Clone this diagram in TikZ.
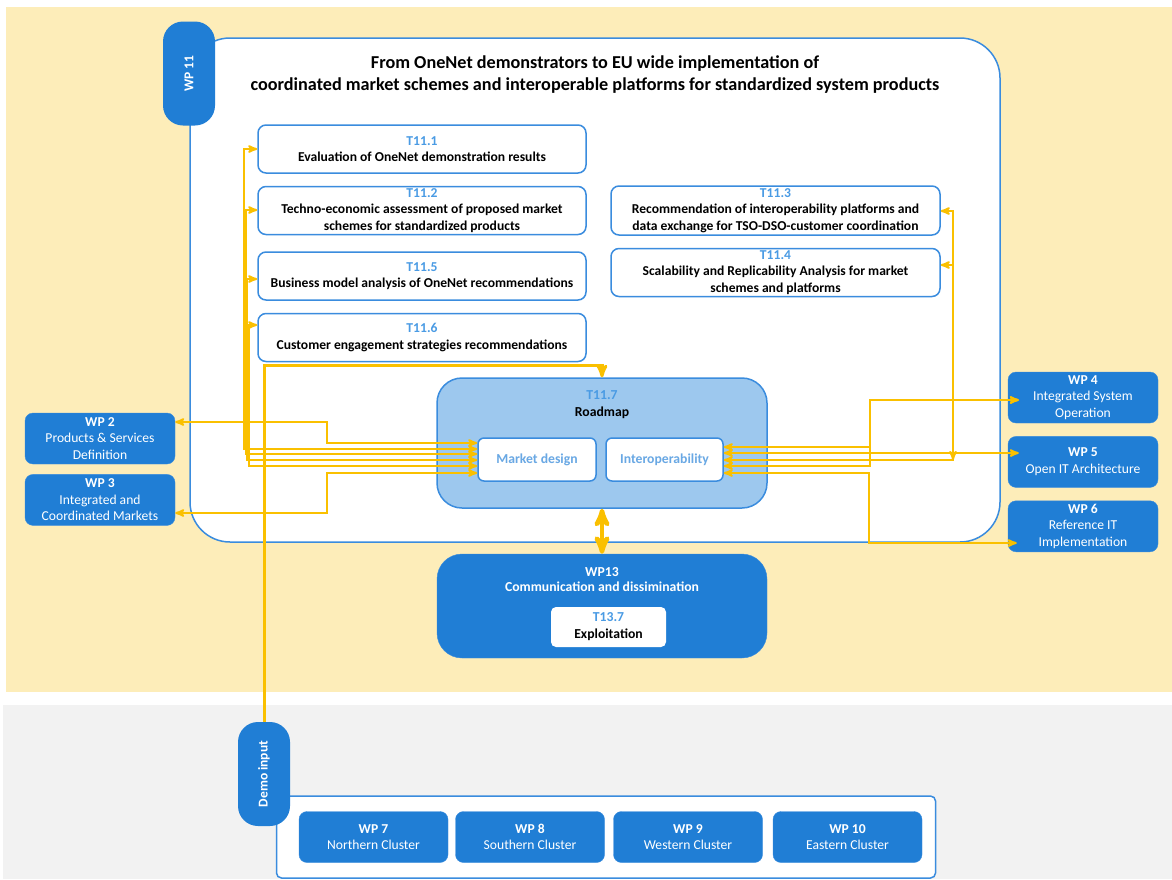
\documentclass[tikz,border=0pt]{standalone}
\usepackage{fontspec}
\setmainfont{Carlito}
\usepackage{graphicx}
\usetikzlibrary{positioning, arrows}
\definecolor{wpblue}{RGB}{32,126,213}
\definecolor{lineblue}{RGB}{58,140,222}
\definecolor{roadblue}{RGB}{157,200,238}
\definecolor{tblue}{RGB}{74,155,228}
\definecolor{mdblue}{RGB}{105,168,228}
\definecolor{gold}{RGB}{250,192,0}
\definecolor{sand}{RGB}{253,237,185}
\definecolor{pale}{RGB}{242,242,242}
\newcommand{\tasknum}[1]{{\color{tblue}#1}}
\tikzset{x=1pt, y=-1pt, % one unit is one pixel of the sketch
frame/.style={ % big white box of WP 11
  draw=lineblue, line width=1.5pt, fill=white,
  rounded corners=40pt, minimum width=810pt, minimum height=504pt},
tab/.style={ % vertical blue tabs
  fill=wpblue, rounded corners=20pt, text=white, inner sep=0pt,
  minimum width=52pt, minimum height=104pt,
  font=\bfseries\fontsize{13.5}{15}\selectfont},
task/.style={ % white task boxes
  draw=lineblue, line width=1.5pt, fill=white, rounded corners=8pt,
  minimum width=328pt, minimum height=48pt, inner sep=0pt, align=center,
  font=\bfseries\fontsize{13.6}{16.5}\selectfont},
wp/.style={ % blue work package boxes
  fill=wpblue, draw=lineblue, rounded corners=8pt, text=white,
  minimum width=150pt, minimum height=51pt, inner sep=0pt, align=center,
  font=\fontsize{13.6}{16.5}\selectfont},
inner/.style={ % small white boxes in the roadmap
  draw=lineblue, line width=1.5pt, fill=white, rounded corners=6pt,
  minimum width=118pt, minimum height=43pt, inner sep=0pt,
  text=mdblue, font=\bfseries\fontsize{13.7}{16}\selectfont},
link/.style={ % thin yellow connectors
  draw=gold, line width=2pt, <->, >=stealth'},
feed/.style={draw=gold, line width=3pt, ->, >=stealth'},
both/.style={draw=gold, line width=4.5pt, <->, >=stealth'}}

\begin{document}
\begin{tikzpicture}
    \useasboundingbox (0,0) rectangle (1172,879);
    \fill[sand] (6,7) rectangle (1172,692);
    \fill[pale] (3,705) rectangle (1172,879);

    % WP 11
    \node[frame] (frame) at (595,290) {};
    \node[tab] (wp11) at (189,73.5) {\rotatebox{90}{WP 11}};
    \node[align=center, font=\bfseries\fontsize{18.2}{22}\selectfont] (title) at (595,75)
        {From OneNet demonstrators to EU wide implementation of\\
         coordinated market schemes and interoperable platforms for standardized system products};

    \node[task] (t111) at (422,149) {\tasknum{T11.1}\\Evaluation of OneNet demonstration results};
    \node[task, below=12pt of t111] (t112) {\tasknum{T11.2}\\Techno-economic assessment of proposed market\\schemes for standardized products};
    \node[task, below=16pt of t112] (t115) {\tasknum{T11.5}\\Business model analysis of OneNet recommendations};
    \node[task, below=12pt of t115] (t116) {\tasknum{T11.6}\\Customer engagement strategies recommendations};
    \node[task, minimum width=329pt, minimum height=49pt] (t113) at (775.5,210.5)
        {\tasknum{T11.3}\\Recommendation of interoperability platforms and\\data exchange for TSO-DSO-customer coordination};
    \node[task, minimum width=329pt, below=12pt of t113] (t114)
        {\tasknum{T11.4}\\Scalability and Replicability Analysis for market\\schemes and platforms};

    % roadmap
    \node[draw=lineblue, line width=1.5pt, fill=roadblue, rounded corners=25pt,
          minimum width=330pt, minimum height=130pt] (roadmap) at (602,443) {};
    \node[align=center, font=\bfseries\fontsize{13.7}{17}\selectfont] (roadtitle) at (602,404.5)
        {\tasknum{T11.7}\\Roadmap};
    \node[inner] (market) at (537,459.5) {Market design};
    \node[inner, minimum width=117pt] (interop) at (664.5,459.5) {Interoperability};

    % WP13
    \node[fill=wpblue, draw=lineblue, rounded corners=25pt,
          minimum width=330pt, minimum height=104pt] (wp13) at (602,606) {};
    \node[align=center, text=white, font=\bfseries\fontsize{13.7}{15.5}\selectfont] (wp13title) at (602,579.5)
        {WP13\\Communication and dissimination};
    \node[fill=white, rounded corners=5pt, minimum width=115pt, minimum height=40pt,
          inner sep=0pt, align=center, font=\bfseries\fontsize{13.7}{17}\selectfont] (t137) at (608.5,627)
        {\tasknum{T13.7}\\Exploitation};

    % other work packages
    \node[wp] (wp2) at (100,438.5) {\textbf{WP 2}\\Products \& Services\\Definition};
    \node[wp, below=10pt of wp2] (wp3) {\textbf{WP 3}\\Integrated and\\Coordinated Markets};
    \node[wp] (wp4) at (1083,397.5) {\textbf{WP 4}\\Integrated System\\Operation};
    \node[wp, below=13pt of wp4] (wp5) {\textbf{WP 5}\\Open IT Architecture};
    \node[wp, below=13pt of wp5] (wp6) {\textbf{WP 6}\\Reference IT\\Implementation};

    % demo clusters
    \node[draw=lineblue, line width=1.5pt, fill=white, rounded corners=5pt,
          minimum width=659pt, minimum height=82pt] (clusters) at (606,837) {};
    \node[wp, minimum width=149pt] (wp7) at (373.5,837) {\textbf{WP 7}\\Northern Cluster};
    \node[wp, minimum width=149pt] (wp8) at (530,837) {\textbf{WP 8}\\Southern Cluster};
    \node[wp, minimum width=149pt] (wp9) at (688,837) {\textbf{WP 9}\\Western Cluster};
    \node[wp, minimum width=149pt] (wp10) at (847.5,837) {\textbf{WP 10}\\Eastern Cluster};
    \node[tab] (demo) at (264,774) {\rotatebox{90}{Demo input}};

    % market design inputs
    \draw[link] (wp2.east |- 0,422) -- (327,422) -- (327,443) -- (market.west |- 0,443);
    \draw[link] (t111.west) -- (244,149) -- (244,449) -- (market.west |- 0,449);
    \draw[link] (t112.west |- 0,210) -- (245.5,210) -- (245.5,454) -- (market.west |- 0,454);
    \draw[link] (t115.west |- 0,279) -- (247,279) -- (247,460) -- (market.west |- 0,460);
    \draw[link] (t116.west |- 0,325) -- (248.5,325) -- (248.5,466) -- (market.west |- 0,466);
    \draw[link] (wp3.east |- 0,513) -- (327,513) -- (327,473) -- (market.west |- 0,473);

    % interoperability inputs
    \draw[link] ([xshift=11pt]wp4.west |- 0,400) -- (870,400) -- (870,447) -- (interop.east |- 0,447);
    \draw[link] ([xshift=11pt]wp4.west |- 0,400) -- (870,400) -- (870,466) -- (interop.east |- 0,466);
    \draw[link] ([xshift=11pt]wp5.west |- 0,453) -- (interop.east |- 0,453);
    \draw[link] (t113.east |- 0,211) -- (953,211) -- (953,460) -- (interop.east |- 0,460);
    \draw[link] (t114.east |- 0,265) -- (953,265) -- (953,460);
    \draw[link] ([xshift=9pt]wp6.west |- 0,543) -- (869,543) -- (869,473) -- (interop.east |- 0,473);

    \draw[feed] (demo.north) -- (264,365) -| (roadmap.north);
    \draw[both] (roadmap.south) -- (wp13.north);
\end{tikzpicture}
\end{document}
